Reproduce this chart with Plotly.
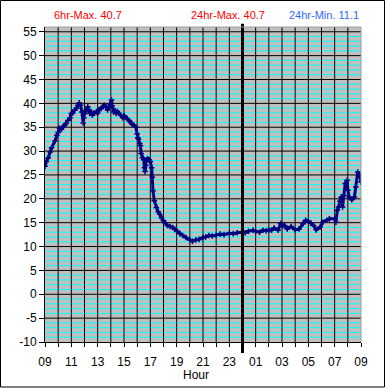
import plotly.graph_objects as go

hours = [9.0, 9.1, 9.25, 9.4, 9.5, 9.75, 9.9, 10.0, 10.1, 10.25, 10.4, 10.5, 10.6, 10.75, 10.9,
         11.0, 11.1, 11.25, 11.4, 11.5, 11.6, 11.7, 11.8, 11.9, 11.95, 12.0, 12.1, 12.25, 12.3,
         12.4, 12.5, 12.6, 12.75, 12.9, 13.0, 13.1, 13.25, 13.4, 13.5, 13.6, 13.75, 13.85, 13.95,
         14.05, 14.1, 14.2, 14.3, 14.4, 14.5, 14.6, 14.75, 14.9, 15.0, 15.1, 15.25, 15.4, 15.5,
         15.6, 15.75, 15.9, 16.0, 16.05, 16.1, 16.2, 16.25, 16.3, 16.4, 16.5, 16.55, 16.6, 16.65,
         16.7, 16.8, 16.9, 17.0, 17.1, 17.15, 17.2, 17.3, 17.45, 17.6, 17.7, 17.85, 18.0, 18.15,
         18.3, 18.5, 18.7, 18.85, 19.0, 19.25, 19.45, 19.7, 20.0, 20.2, 20.45, 20.7, 21.0, 21.2,
         21.45, 21.7, 22.0, 22.3, 22.6, 23.0, 23.3, 23.6, 24.0, 24.2, 24.45, 24.8, 25.0, 25.3,
         25.55, 25.8, 26.0, 26.2, 26.4, 26.7, 26.9, 27.05, 27.2, 27.4, 27.7, 28.0, 28.3, 28.6,
         28.8, 29.0, 29.2, 29.4, 29.6, 29.9, 30.1, 30.4, 30.6, 31.0, 31.1, 31.2, 31.3, 31.4, 31.5,
         31.6, 31.7, 31.8, 31.95, 32.0, 32.1, 32.3, 32.5, 32.6, 32.75, 32.9, 33.0]
temps = [26.8, 27.8, 28.6, 29.8, 30.7, 32.1, 33.3, 33.9, 34.8, 34.6, 35.2, 35.4, 35.8, 36.4, 37.0,
         37.9, 38.0, 38.6, 39.0, 39.6, 40.1, 39.6, 38.2, 35.9, 37.0, 37.9, 38.5, 39.3, 38.6,
         37.9, 38.3, 37.5, 38.0, 38.2, 38.0, 38.7, 38.9, 39.3, 39.6, 39.4, 38.6, 39.2, 39.8,
         40.7, 39.5, 38.2, 38.5, 37.9, 38.3, 37.9, 37.5, 37.0, 37.4, 37.1, 36.8, 36.4, 36.0,
         35.7, 35.4, 35.0, 33.6, 32.8, 32.5, 31.6, 31.1, 29.5, 28.6, 28.2, 26.5, 25.7, 27.0,
         28.2, 28.4, 28.2, 27.8, 26.5, 24.5, 21.7, 19.6, 18.2, 17.3, 16.8, 16.0, 15.4, 14.9,
         14.4, 14.2, 14.0, 13.6, 13.3, 12.7, 12.3, 11.9, 11.4, 11.1, 11.4, 11.5, 11.9, 12.0,
         12.3, 12.2, 12.4, 12.6, 12.5, 12.8, 12.7, 12.9, 13.0, 12.9, 13.2, 13.4, 13.2, 13.0,
         13.4, 13.3, 13.5, 13.4, 13.9, 13.4, 14.8, 14.3, 14.4, 13.7, 14.2, 13.5, 13.7, 14.8,
         15.5, 15.3, 14.9, 14.4, 13.5, 14.1, 15.1, 15.5, 15.8, 15.8, 15.1, 17.6, 18.3, 19.5, 20.4,
         18.3, 20.7, 23.2, 23.9, 21.8, 20.4, 19.8, 20.4, 22.5, 25.6, 24.9, 23.5]

x_tickvals = [9, 11, 13, 15, 17, 19, 21, 23, 25, 27, 29, 31, 33]
x_ticktext = ["09", "11", "13", "15", "17", "19", "21", "23", "01", "03", "05", "07", "09"]
y_tickvals = [-10, -5, 0, 5, 10, 15, 20, 25, 30, 35, 40, 45, 50, 55]
y_ticktext = ["-10", "-5", "0", "5", "10", "15", "20", "25", "30", "35", "40", "45", "50", "55"]
midnight = 24
headers = ["6hr-Max. 40.7", "24hr-Max. 40.7", "24hr-Min. 11.1"]
header_colors = ["#ff0000", "#ff0000", "#3366ff"]

FONT = "Liberation Sans, Arial, sans-serif"
NAVY = "#000080"
X_MIN, X_MAX = 9, 33
Y_MIN, Y_MAX = -10, 56

fig = go.Figure()
fig.add_trace(go.Scatter(
    x=hours, y=temps, mode="lines+markers",
    line=dict(color=NAVY, width=3),
    marker=dict(symbol="cross-thin", size=4, line=dict(width=1.5, color=NAVY), color=NAVY),
    showlegend=False, hoverinfo="skip"))

fig.update_layout(
    width=385, height=388,
    margin=dict(l=45, r=24, t=27, b=46),
    paper_bgcolor="white", plot_bgcolor="rgba(0,0,0,0)",
    font=dict(family=FONT, size=12, color="black"),
    xaxis=dict(range=[X_MIN, X_MAX], tickvals=x_tickvals, ticktext=x_ticktext,
               showgrid=False,
               minor=dict(dtick=1, showgrid=False,
                          ticks="outside", ticklen=4, tickcolor="black"),
               ticks="outside", ticklen=4, tickcolor="black",
               ticklabelstandoff=5,
               showline=True, linecolor="black", linewidth=1,
               zeroline=False, tickfont=dict(size=12)),
    yaxis=dict(range=[Y_MIN, Y_MAX], tickvals=y_tickvals, ticktext=y_ticktext,
               showgrid=False,
               ticks="outside", ticklen=5, tickcolor="black",
               showline=True, linecolor="black", linewidth=1,
               zeroline=False, tickfont=dict(size=12)),
)

# grey plot background
fig.add_shape(type="rect", layer="below", xref="paper", yref="paper", x0=0, x1=1, y0=0, y1=1,
              fillcolor="#c0c0c0", line=dict(width=0))
# cyan minor horizontal grid (every degree)
for v in range(Y_MIN + 1, Y_MAX):
    if v % 5:
        fig.add_shape(type="line", layer="below", xref="paper", yref="y", x0=0, x1=1, y0=v, y1=v,
                      line=dict(color="#00ffff", width=1))
# black 5-degree horizontal grid
for v in y_tickvals[1:]:
    fig.add_shape(type="line", layer="below", xref="paper", yref="y", x0=0, x1=1, y0=v, y1=v,
                  line=dict(color="black", width=1))
# black hourly vertical grid
for h in range(X_MIN + 1, X_MAX):
    fig.add_shape(type="line", layer="below", xref="x", yref="paper", x0=h, x1=h, y0=0, y1=1,
                  line=dict(color="black", width=1))

# midnight separator line
fig.add_shape(type="line", xref="x", yref="paper", x0=midnight, x1=midnight,
              y0=-0.035, y1=1.01, line=dict(color="black", width=3))
# right/top plot frame (grey)
fig.add_shape(type="line", xref="paper", yref="paper", x0=1, x1=1, y0=0, y1=1,
              line=dict(color="#a0a0a0", width=1))
fig.add_shape(type="line", xref="paper", yref="paper", x0=0, x1=1, y0=1, y1=1,
              line=dict(color="#a0a0a0", width=1))
# outer border
fig.add_shape(type="rect", xref="paper", yref="paper",
              x0=-0.1408, x1=1.0744, y0=-0.1429, y1=1.0841,
              line=dict(color="black", width=1), fillcolor="rgba(0,0,0,0)")

for txt, col, xp in zip(headers, header_colors, [88, 228, 324]):
    fig.add_annotation(text=txt, xref="paper", yref="paper",
                       x=(xp - 45) / 316, y=(342 - 15) / 315,
                       showarrow=False, xanchor="center", yanchor="middle",
                       font=dict(family=FONT, size=11, color=col))

# x-axis title
fig.add_annotation(text="Hour", xref="paper", yref="paper",
                   x=(196 - 45) / 316, y=(342 - 375) / 315,
                   showarrow=False, xanchor="center", yanchor="middle",
                   font=dict(family=FONT, size=12, color="black"))

fig.write_html("out.html", config={"displayModeBar": False, "staticPlot": True},
               post_script="document.body.style.margin='0';document.body.style.overflow='hidden';")
